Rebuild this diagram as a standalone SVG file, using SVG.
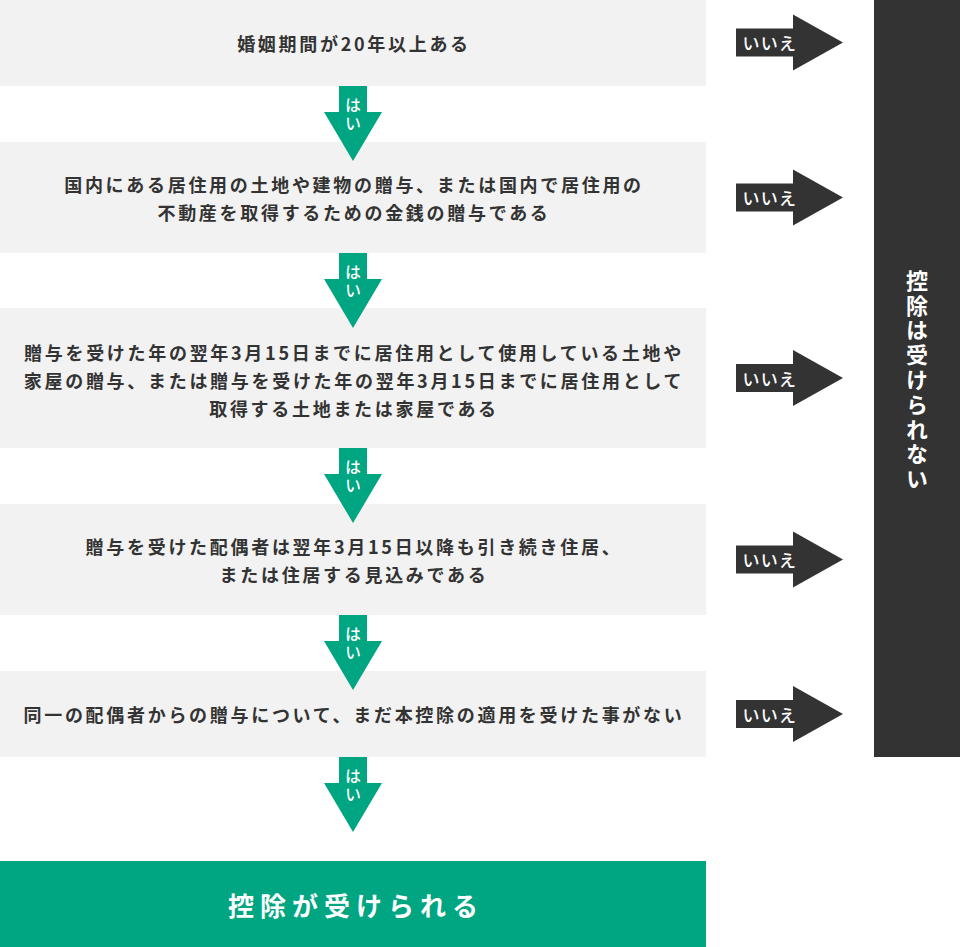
<svg xmlns="http://www.w3.org/2000/svg" xmlns:xlink="http://www.w3.org/1999/xlink" width="960" height="947" viewBox="0 0 960 947">
<style>
.box{fill:#f2f2f2}
.q{font-family:"Noto Sans CJK JP","Noto Sans",sans-serif;font-weight:700;font-size:18px;fill:#333333;letter-spacing:2.7px;text-anchor:middle;dominant-baseline:central}
.yes{fill:#00a582}
.yt{font-family:"Noto Sans CJK JP",sans-serif;font-weight:500;font-size:16px;fill:#ffffff;letter-spacing:2.5px;writing-mode:vertical-rl;text-anchor:middle}
.no{fill:#333333}
.nt{font-family:"Noto Sans CJK JP",sans-serif;font-weight:500;font-size:17px;fill:#ffffff;letter-spacing:1.2px;dominant-baseline:central}
</style>
<defs>
<path id="down" d="M339 0 H367 V26 H382 L353 75 L324 26 H339 Z"/>
<path id="right" d="M736 -14 H793 V-28 L843 0 L793 28 V14 H736 Z"/>
</defs>
<rect width="960" height="947" fill="#ffffff"/>
<g id="node-q1"><rect class="box" x="0" y="0" width="706" height="86"/><text class="q" x="354" y="43">婚姻期間が20年以上ある</text></g>
<g id="node-q2"><rect class="box" x="0" y="142" width="706" height="111"/><text class="q" x="354" y="183.5">国内にある居住用の土地や建物の贈与、または国内で居住用の</text><text class="q" x="354" y="211.5">不動産を取得するための金銭の贈与である</text></g>
<g id="node-q3"><rect class="box" x="0" y="308" width="706" height="140"/><text class="q" x="354" y="352">贈与を受けた年の翌年3月15日までに居住用として使用している土地や</text><text class="q" x="354" y="380">家屋の贈与、または贈与を受けた年の翌年3月15日までに居住用として</text><text class="q" x="354" y="408">取得する土地または家屋である</text></g>
<g id="node-q4"><rect class="box" x="0" y="504" width="706" height="111"/><text class="q" x="354" y="545.5">贈与を受けた配偶者は翌年3月15日以降も引き続き住居、</text><text class="q" x="354" y="573.5">または住居する見込みである</text></g>
<g id="node-q5"><rect class="box" x="0" y="671" width="706" height="86"/><text class="q" x="354" y="714">同一の配偶者からの贈与について、まだ本控除の適用を受けた事がない</text></g>
<g id="node-ok"><rect x="0" y="861" width="706" height="86" fill="#00a582"/><text x="356" y="904" style="font-family:'Noto Sans CJK JP',sans-serif;font-weight:700;font-size:26px;fill:#ffffff;letter-spacing:6px;text-anchor:middle;dominant-baseline:central">控除が受けられる</text></g>
<g id="node-ng"><rect x="874" y="0" width="86" height="757" fill="#333333"/><text x="917" y="381" style="font-family:'Noto Sans CJK JP',sans-serif;font-weight:700;font-size:22px;fill:#ffffff;letter-spacing:2.8px;writing-mode:vertical-rl;text-anchor:middle">控除は受けられない</text></g>
<g id="connectors">
<g transform="translate(0,86)"><use xlink:href="#down" class="yes"/><text class="yt" x="353" y="29">はい</text></g>
<g transform="translate(0,253)"><use xlink:href="#down" class="yes"/><text class="yt" x="353" y="29">はい</text></g>
<g transform="translate(0,448)"><use xlink:href="#down" class="yes"/><text class="yt" x="353" y="29">はい</text></g>
<g transform="translate(0,615)"><use xlink:href="#down" class="yes"/><text class="yt" x="353" y="29">はい</text></g>
<g transform="translate(0,757)"><use xlink:href="#down" class="yes"/><text class="yt" x="353" y="29">はい</text></g>
<g transform="translate(0,42.5)"><use xlink:href="#right" class="no"/><text class="nt" x="742.5" y="0">いいえ</text></g>
<g transform="translate(0,197.5)"><use xlink:href="#right" class="no"/><text class="nt" x="742.5" y="0">いいえ</text></g>
<g transform="translate(0,378)"><use xlink:href="#right" class="no"/><text class="nt" x="742.5" y="0">いいえ</text></g>
<g transform="translate(0,559.5)"><use xlink:href="#right" class="no"/><text class="nt" x="742.5" y="0">いいえ</text></g>
<g transform="translate(0,714)"><use xlink:href="#right" class="no"/><text class="nt" x="742.5" y="0">いいえ</text></g>
</g>
</svg>
